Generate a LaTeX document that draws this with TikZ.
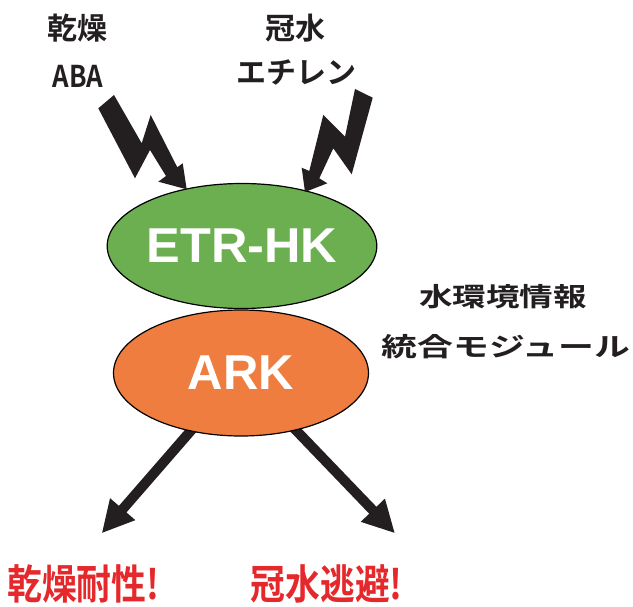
\documentclass[tikz,border=0pt]{standalone}
\usepackage{fontspec}
\setmainfont{Liberation Sans}
\newfontfamily\cjk{Noto Sans CJK JP}[BoldFont={Noto Sans CJK JP Bold}]
\usetikzlibrary{arrows.meta,backgrounds,shapes.geometric}
\definecolor{boltblack}{HTML}{231F20}
\definecolor{etrgreen}{HTML}{6BAF50}
\definecolor{arkorange}{HTML}{EE7D3F}
\definecolor{alertred}{HTML}{E5282B}
\begin{document}
\begin{tikzpicture}[x=1pt,y=-1pt,
  blob/.style={ellipse, draw=black, line width=1.2pt, inner sep=0pt,
    text=white, font=\fontsize{49}{52}\selectfont\bfseries},
  toplabel/.style={inner sep=0pt, text=boltblack,
    font=\cjk\bfseries\fontsize{30}{34}\selectfont},
  modlabel/.style={inner sep=0pt, text=boltblack, align=center,
    font=\cjk\bfseries\fontsize{26}{50}\selectfont},
  outlabel/.style={inner sep=0pt, text=alertred,
    font=\cjk\bfseries\fontsize{41}{46}\selectfont},
  bolt/.style={fill=boltblack, draw=none},
  bigarrow/.style={draw=boltblack, line width=10pt,
    -{Triangle[length=32pt,width=31pt]}}
]
\useasboundingbox (0,0) rectangle (633,607);

% top labels
\node[toplabel] (dry) at (78,28) {乾燥};
\node[toplabel] (aba) at (78,76) {\scalebox{0.86}[1]{ABA}};
\node[toplabel] (flood) at (295,28) {冠水};
\node[toplabel] (eth) at (296,72) {エチレン};

% ellipses
\node[blob, fill=etrgreen, minimum width=256pt, minimum height=125pt] (etr) at (242,246) {\scalebox{1.03}[1]{ETR-HK}};
\node[blob, fill=arkorange, minimum width=255pt, minimum height=126pt] (ark) at (241,373) {ARK};

% module label
\node[modlabel] (mod) at (503,322) {\scalebox{1.29}[1]{水環境情報}\\\hspace{6pt}\scalebox{1.38}[1]{統合モジュール}};

% outcome labels
\coordinate (tipL) at (101.7,533.3);
\coordinate (tipR) at (395,533.3);
\node[outlabel] (tol) at (83.3,584) {\scalebox{0.85}[1]{乾燥耐性!}};
\node[outlabel] (esc) at (326.7,584) {\scalebox{0.85}[1]{冠水逃避!}};

\begin{pgfonlayer}{background}
\draw[bigarrow] (ark.center) -- (tipL);
\draw[bigarrow] (ark.center) -- (tipR);
\end{pgfonlayer}

% lightning bolts
\fill[bolt] (98.3,108.3) -- (114,95) -- (141.7,143.3) -- (150.7,115)
  -- (177.3,167.3) -- (182.7,163.3) -- (186.7,189.3) -- (158.3,181.7)
  -- (166,176) -- (150,150) -- (135,178.3) -- cycle;
\fill[bolt] (355,89) -- (372.7,97.7) -- (351.7,174.3) -- (333.3,148.3)
  -- (319.3,178.3) -- (327.3,183.3) -- (305,192) -- (301.7,167.7)
  -- (309.3,171) -- (323.3,115) -- (345,136.7) -- cycle;
\end{tikzpicture}
\end{document}
